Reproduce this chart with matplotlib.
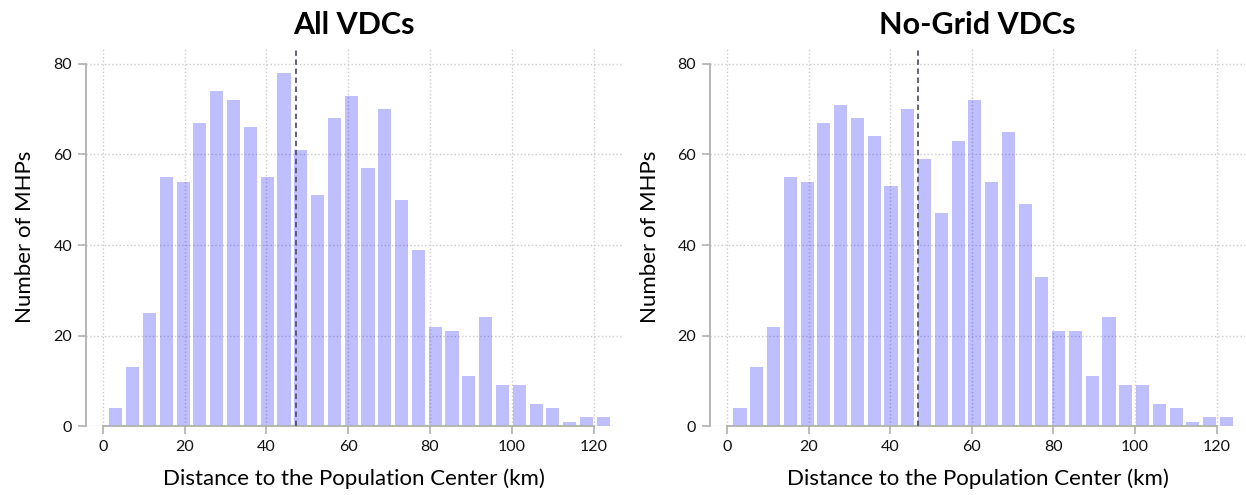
import numpy as np
import matplotlib
matplotlib.use("Agg")
import matplotlib.pyplot as plt

# ---- data ----
titles = ["All VDCs", "No-Grid VDCs"]
counts_all = [4, 13, 25, 55, 54, 67, 74, 72, 66, 55, 78, 61, 51, 68, 73,
              57, 70, 50, 39, 22, 21, 11, 24, 9, 9, 5, 4, 1, 2, 2]
counts_nogrid = [4, 13, 22, 55, 54, 67, 71, 68, 64, 53, 70, 59, 47, 63, 72,
                 54, 65, 49, 33, 21, 21, 11, 24, 9, 9, 5, 4, 1, 2, 2]
dist_min = 1.15          # km, lower edge of first bin
dist_max = 124.45        # km, upper edge of last bin
mean_all = 47.3
mean_nogrid = 46.8
x_ticks = [0, 20, 40, 60, 80, 100, 120]
y_ticks = [0, 20, 40, 60, 80]
xlabel = "Distance to the Population Center (km)"
ylabel = "Number of MHPs"

plt.rcParams['font.family'] = ['Lato', 'DejaVu Sans']

fig = plt.figure(figsize=(12.46, 4.95), dpi=100)
ax1 = fig.add_axes([0.069, 0.139, 0.430, 0.764])
ax2 = fig.add_axes([0.570, 0.139, 0.429, 0.764])

spine_col = "#b0b0b0"
bar_col = (0.0, 0.0, 1.0, 0.25)

for ax, title, counts, mean in zip([ax1, ax2], titles,
                                   [counts_all, counts_nogrid],
                                   [mean_all, mean_nogrid]):
    edges = np.linspace(dist_min, dist_max, len(counts) + 1)
    width = edges[1] - edges[0]
    centers = (edges[:-1] + edges[1:]) / 2
    ax.bar(centers, counts, width=width * 0.78, color=bar_col,
           linewidth=0, zorder=2)
    ax.axvline(mean, color="#555566", linestyle=(0, (3, 2)), linewidth=1.3,
               zorder=3)
    ax.set_xlim(-4.1, 126.9)
    ax.set_ylim(0, 83.5)
    ax.set_xticks(x_ticks)
    ax.set_yticks(y_ticks)
    ax.grid(True, linestyle=":", color="#cccccc", linewidth=1.0, zorder=0)
    ax.set_axisbelow(True)
    for s in ["top", "right"]:
        ax.spines[s].set_visible(False)
    ax.spines["left"].set_bounds(0, 80)
    ax.spines["bottom"].set_bounds(0, 120)
    for s in ["left", "bottom"]:
        ax.spines[s].set_color(spine_col)
        ax.spines[s].set_linewidth(1.3)
    ax.tick_params(axis="both", colors=spine_col, length=6, width=1.2,
                   labelcolor="#111111", labelsize=11.5, pad=4)
    ax.set_xlabel(xlabel, fontsize=16, labelpad=10)
    ax.set_ylabel(ylabel, fontsize=16, labelpad=13)
    ax.set_title(title, fontsize=22, fontweight="bold", pad=10)

fig.savefig("out.png", dpi=100)
